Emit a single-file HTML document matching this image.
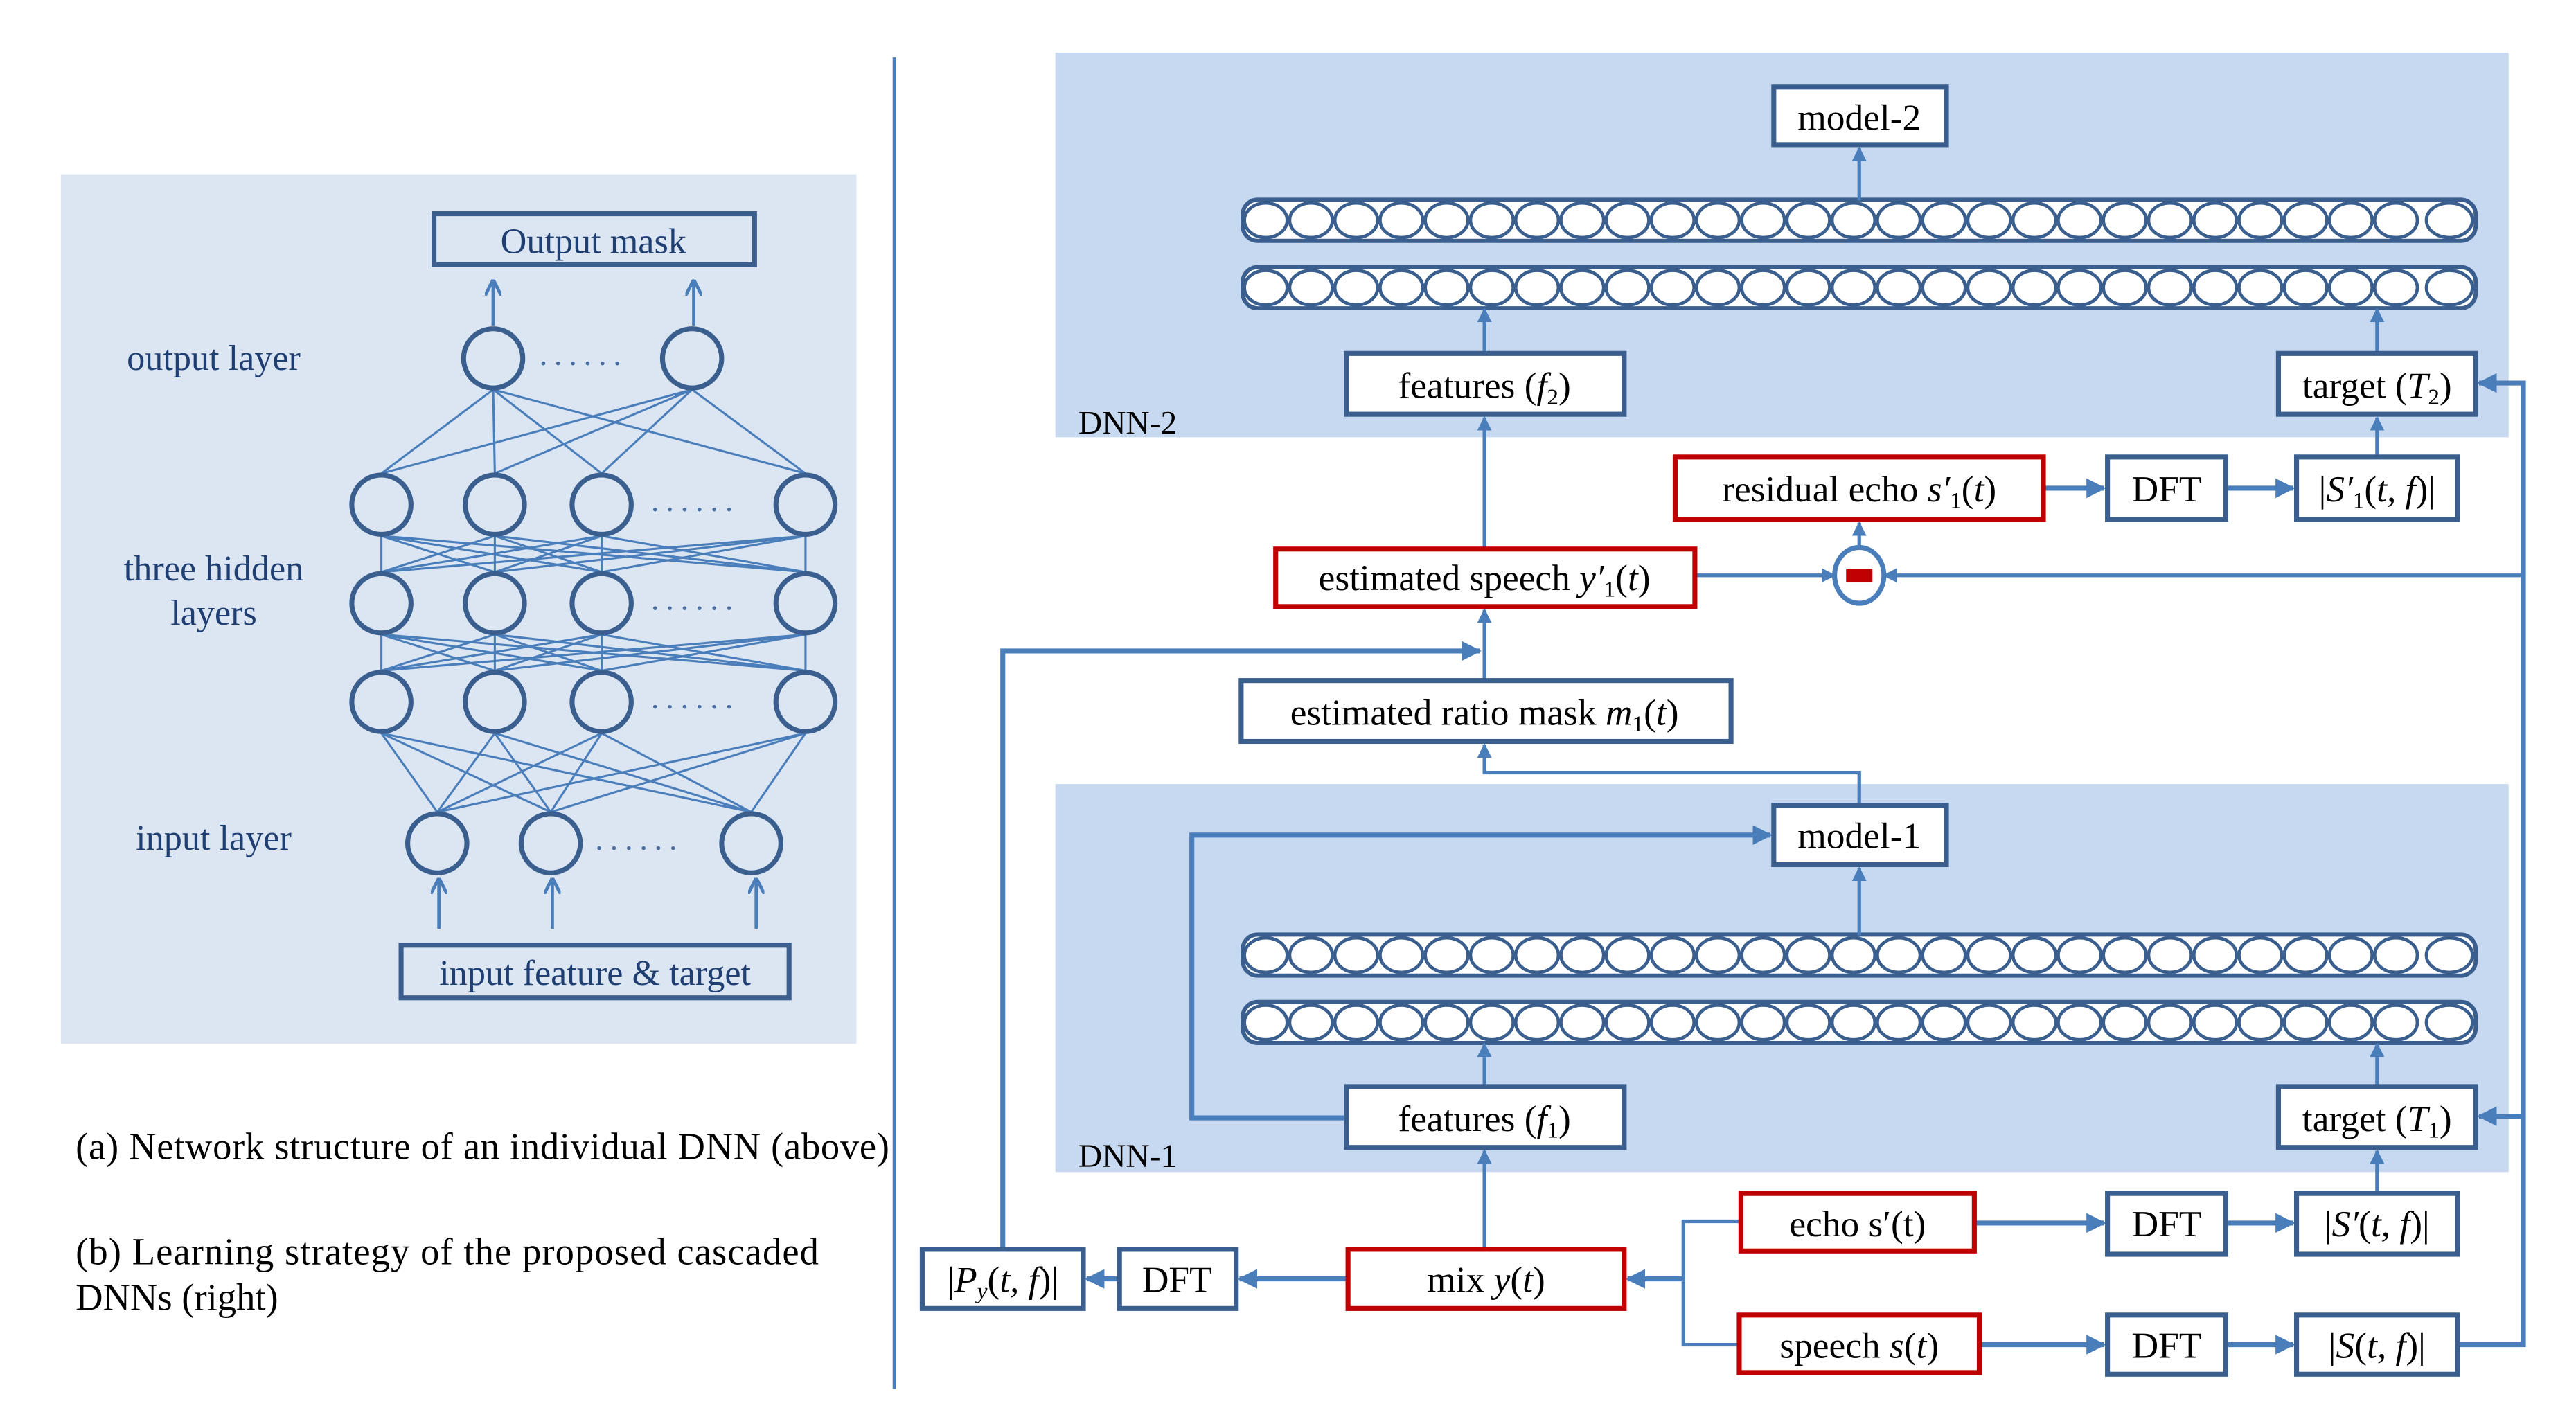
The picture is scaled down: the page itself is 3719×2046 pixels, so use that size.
<!DOCTYPE html>
<html><head><meta charset="utf-8"><style>
html,body{margin:0;padding:0;background:#fff}
svg{display:block}
text{font-family:"Liberation Serif",serif;fill:#000}
.l{fill:#1f3f73}
</style></head><body>
<svg width="3719" height="2046" viewBox="0 0 1567 862" preserveAspectRatio="none" xmlns="http://www.w3.org/2000/svg">
<defs>
<marker id="a" viewBox="0 0 10 10" refX="9" refY="5" markerWidth="4" markerHeight="4" orient="auto"><path d="M0,0L10,5L0,10z" fill="#4a7ebb"/></marker>
<marker id="o" viewBox="0 0 10 10" refX="9" refY="5" markerWidth="5" markerHeight="5" orient="auto"><path d="M0,0L10,5L0,10" fill="none" stroke="#4a7ebb" stroke-width="2"/></marker>
<g id="row">
<rect x="756" y="-12.5" width="750" height="25" rx="9" fill="#fff" stroke="#3a5f8f" stroke-width="2.5"/>
<g fill="#fff" stroke="#3a5f8f" stroke-width="2">
<ellipse cx="770" cy="0" rx="13" ry="10.5"/><ellipse cx="797.5" cy="0" rx="13" ry="10.5"/><ellipse cx="825" cy="0" rx="13" ry="10.5"/><ellipse cx="852.5" cy="0" rx="13" ry="10.5"/><ellipse cx="880" cy="0" rx="13" ry="10.5"/><ellipse cx="907.5" cy="0" rx="13" ry="10.5"/><ellipse cx="935" cy="0" rx="13" ry="10.5"/><ellipse cx="962.5" cy="0" rx="13" ry="10.5"/><ellipse cx="990" cy="0" rx="13" ry="10.5"/><ellipse cx="1017.5" cy="0" rx="13" ry="10.5"/><ellipse cx="1045" cy="0" rx="13" ry="10.5"/><ellipse cx="1072.5" cy="0" rx="13" ry="10.5"/><ellipse cx="1100" cy="0" rx="13" ry="10.5"/><ellipse cx="1127.5" cy="0" rx="13" ry="10.5"/><ellipse cx="1155" cy="0" rx="13" ry="10.5"/><ellipse cx="1182.5" cy="0" rx="13" ry="10.5"/><ellipse cx="1210" cy="0" rx="13" ry="10.5"/><ellipse cx="1237.5" cy="0" rx="13" ry="10.5"/><ellipse cx="1265" cy="0" rx="13" ry="10.5"/><ellipse cx="1292.5" cy="0" rx="13" ry="10.5"/><ellipse cx="1320" cy="0" rx="13" ry="10.5"/><ellipse cx="1347.5" cy="0" rx="13" ry="10.5"/><ellipse cx="1375" cy="0" rx="13" ry="10.5"/><ellipse cx="1402.5" cy="0" rx="13" ry="10.5"/><ellipse cx="1430" cy="0" rx="13" ry="10.5"/><ellipse cx="1457.5" cy="0" rx="13" ry="10.5"/><ellipse cx="1490" cy="0" rx="14" ry="10.5"/>
</g>
</g>
</defs>
<rect x="37" y="106" width="484" height="529" fill="#dce6f2"/>
<line x1="544" y1="35" x2="544" y2="845" stroke="#4a7ebb" stroke-width="2"/>
<g stroke="#4a7ebb" stroke-width="1.3">
<path d="M300,237L232,288M300,237L301,288M300,237L366,288M300,237L490,288M421,237L232,288M421,237L301,288M421,237L366,288M421,237L490,288"/>
<path d="M232,326L232,348M232,326L301,348M232,326L366,348M232,326L490,348M301,326L232,348M301,326L301,348M301,326L366,348M301,326L490,348M366,326L232,348M366,326L301,348M366,326L366,348M366,326L490,348M490,326L232,348M490,326L301,348M490,326L366,348M490,326L490,348"/>
<path d="M232,386L232,408M232,386L301,408M232,386L366,408M232,386L490,408M301,386L232,408M301,386L301,408M301,386L366,408M301,386L490,408M366,386L232,408M366,386L301,408M366,386L366,408M366,386L490,408M490,386L232,408M490,386L301,408M490,386L366,408M490,386L490,408"/>
<path d="M232,446L266,494M232,446L335,494M232,446L457,494M301,446L266,494M301,446L335,494M301,446L457,494M366,446L266,494M366,446L335,494M366,446L457,494M490,446L266,494M490,446L335,494M490,446L457,494"/>
</g>
<g fill="#dce6f2" stroke="#3a5f8f" stroke-width="3">
<circle cx="300" cy="218" r="18"/><circle cx="421" cy="218" r="18"/>
<circle cx="232" cy="307" r="18"/><circle cx="301" cy="307" r="18"/><circle cx="366" cy="307" r="18"/><circle cx="490" cy="307" r="18"/>
<circle cx="232" cy="367" r="18"/><circle cx="301" cy="367" r="18"/><circle cx="366" cy="367" r="18"/><circle cx="490" cy="367" r="18"/>
<circle cx="232" cy="427" r="18"/><circle cx="301" cy="427" r="18"/><circle cx="366" cy="427" r="18"/><circle cx="490" cy="427" r="18"/>
<circle cx="266" cy="513" r="18"/><circle cx="335" cy="513" r="18"/><circle cx="457" cy="513" r="18"/>
</g>
<g>
<text x="328" y="222" style="font-size:20px;fill:#4a6fa0;letter-spacing:4px">......</text>
<text x="396" y="311" style="font-size:20px;fill:#4a6fa0;letter-spacing:4px">......</text>
<text x="396" y="371" style="font-size:20px;fill:#4a6fa0;letter-spacing:4px">......</text>
<text x="396" y="431" style="font-size:20px;fill:#4a6fa0;letter-spacing:4px">......</text>
<text x="362" y="517" style="font-size:20px;fill:#4a6fa0;letter-spacing:4px">......</text>
</g>
<g stroke="#4a7ebb" stroke-width="2" fill="none">
<line x1="300" y1="198" x2="300" y2="171" marker-end="url(#o)"/>
<line x1="422" y1="198" x2="422" y2="171" marker-end="url(#o)"/>
<line x1="267" y1="565" x2="267" y2="535" marker-end="url(#o)"/>
<line x1="336" y1="565" x2="336" y2="535" marker-end="url(#o)"/>
<line x1="460" y1="565" x2="460" y2="535" marker-end="url(#o)"/>
</g>
<rect x="264" y="130" width="195" height="31" fill="none" stroke="#3a5f8f" stroke-width="3"/>
<text x="361" y="154" text-anchor="middle" class="l" style="font-size:22px">Output mask</text>
<rect x="244" y="575" width="236" height="32" fill="none" stroke="#3a5f8f" stroke-width="3"/>
<text x="362" y="599" text-anchor="middle" class="l" style="font-size:22px">input feature &amp; target</text>
<text x="130" y="225" text-anchor="middle" class="l" style="font-size:22px">output layer</text>
<text x="130" y="353" text-anchor="middle" class="l" style="font-size:22px">three hidden</text>
<text x="130" y="380" text-anchor="middle" class="l" style="font-size:22px">layers</text>
<text x="130" y="517" text-anchor="middle" class="l" style="font-size:22px">input layer</text>
<text x="46" y="705" style="font-size:23px" textLength="495">(a) Network structure of an individual DNN (above)</text>
<text x="46" y="769" style="font-size:23px" textLength="452">(b) Learning strategy of the proposed cascaded</text>
<text x="46" y="797" style="font-size:23px">DNNs (right)</text>

<rect x="642" y="32" width="884" height="234" fill="#c6d9f0"/>
<rect x="642" y="477" width="884" height="236" fill="#c6d9f0"/>
<text x="656" y="264" style="font-size:20px">DNN-2</text>
<text x="656" y="710" style="font-size:20px">DNN-1</text>

<use href="#row" y="134"/><use href="#row" y="175"/><use href="#row" y="581"/><use href="#row" y="622"/>

<g stroke="#4a7ebb" stroke-width="2.2" fill="none">
<line x1="1131" y1="122" x2="1131" y2="90" marker-end="url(#a)"/>
<line x1="903" y1="215" x2="903" y2="188" marker-end="url(#a)"/>
<line x1="1446" y1="215" x2="1446" y2="188" marker-end="url(#a)"/>
<line x1="903" y1="334" x2="903" y2="254" marker-end="url(#a)"/>
<line x1="1446" y1="278" x2="1446" y2="254" marker-end="url(#a)"/>
<line x1="1243" y1="297" x2="1280" y2="297" marker-end="url(#a)" stroke-width="3"/>
<line x1="1354" y1="297" x2="1395" y2="297" marker-end="url(#a)" stroke-width="3"/>
<line x1="1131" y1="337" x2="1131" y2="318" marker-end="url(#a)"/>
<line x1="1031" y1="350" x2="1116" y2="350" marker-end="url(#a)"/>
<line x1="1535" y1="350" x2="1146" y2="350" marker-end="url(#a)"/>
<polyline points="1495,818 1535,818 1535,233 1508,233" marker-end="url(#a)" stroke-width="3"/>
<line x1="1535" y1="679" x2="1508" y2="679" marker-end="url(#a)" stroke-width="3"/>
<line x1="903" y1="414" x2="903" y2="371" marker-end="url(#a)"/>
<polyline points="610,760 610,396 900,396" marker-end="url(#a)" stroke-width="3"/>
<polyline points="1131,490 1131,470 903,470 903,453" marker-end="url(#a)"/>
<polyline points="819,680 725,680 725,508 1077,508" marker-end="url(#a)" stroke-width="3"/>
<line x1="1131" y1="569" x2="1131" y2="528" marker-end="url(#a)"/>
<line x1="903" y1="661" x2="903" y2="635" marker-end="url(#a)"/>
<line x1="1446" y1="661" x2="1446" y2="635" marker-end="url(#a)"/>
<line x1="903" y1="760" x2="903" y2="700" marker-end="url(#a)"/>
<line x1="1446" y1="726" x2="1446" y2="700" marker-end="url(#a)"/>
<polyline points="1059,743 1024,743 1024,818 1058,818"/>
<line x1="1024" y1="778" x2="990" y2="778" marker-end="url(#a)" stroke-width="3"/>
<line x1="820" y1="778" x2="754" y2="778" marker-end="url(#a)" stroke-width="3"/>
<line x1="681" y1="778" x2="661" y2="778" marker-end="url(#a)" stroke-width="3"/>
<line x1="1201" y1="744" x2="1280" y2="744" marker-end="url(#a)" stroke-width="3"/>
<line x1="1354" y1="744" x2="1395" y2="744" marker-end="url(#a)" stroke-width="3"/>
<line x1="1204" y1="818" x2="1280" y2="818" marker-end="url(#a)" stroke-width="3"/>
<line x1="1354" y1="818" x2="1395" y2="818" marker-end="url(#a)" stroke-width="3"/>
</g>
<ellipse cx="1131" cy="350" rx="15" ry="17" fill="#fff" stroke="#4a7ebb" stroke-width="3"/>
<rect x="1123" y="346" width="16" height="8" fill="#c00000"/>

<g fill="#fff" stroke="#3a5f8f" stroke-width="3">
<rect x="1079" y="53" width="105" height="35"/>
<rect x="819" y="215" width="169" height="37"/>
<rect x="1386" y="215" width="120" height="37"/>
<rect x="1282" y="278" width="72" height="38"/>
<rect x="1397" y="278" width="98" height="38"/>
<rect x="755" y="414" width="298" height="37"/>
<rect x="1079" y="490" width="105" height="36"/>
<rect x="819" y="661" width="169" height="37"/>
<rect x="1386" y="661" width="120" height="37"/>
<rect x="1282" y="726" width="72" height="37"/>
<rect x="1397" y="726" width="98" height="37"/>
<rect x="1282" y="800" width="72" height="36"/>
<rect x="1397" y="800" width="98" height="36"/>
<rect x="681" y="760" width="71" height="36"/>
<rect x="561" y="760" width="98" height="36"/>
</g>
<g fill="#fff" stroke="#c00000" stroke-width="3">
<rect x="1019" y="278" width="224" height="38"/>
<rect x="776" y="334" width="255" height="35"/>
<rect x="1059" y="726" width="142" height="35"/>
<rect x="1058" y="800" width="146" height="35"/>
<rect x="820" y="760" width="168" height="36"/>
</g>
<g style="font-size:22.5px" text-anchor="middle">
<text x="1131" y="79">model-2</text>
<text x="903" y="242">features (<tspan font-style="italic">f</tspan><tspan font-size="14" dy="4">2</tspan><tspan dy="-4">)</tspan></text>
<text x="1446" y="242">target (<tspan font-style="italic">T</tspan><tspan font-size="14" dy="4">2</tspan><tspan dy="-4">)</tspan></text>
<text x="1131" y="305">residual echo  <tspan font-style="italic">s′</tspan><tspan font-size="14" dy="4">1</tspan><tspan dy="-4">(</tspan><tspan font-style="italic">t</tspan>)</text>
<text x="1318" y="305">DFT</text>
<text x="1446" y="305">|<tspan font-style="italic">S′</tspan><tspan font-size="14" dy="4">1</tspan><tspan dy="-4">(</tspan><tspan font-style="italic">t, f</tspan>)|</text>
<text x="903" y="359">estimated speech  <tspan font-style="italic">y′</tspan><tspan font-size="14" dy="4">1</tspan><tspan dy="-4">(</tspan><tspan font-style="italic">t</tspan>)</text>
<text x="903" y="441">estimated ratio mask  <tspan font-style="italic">m</tspan><tspan font-size="14" dy="4">1</tspan><tspan dy="-4">(</tspan><tspan font-style="italic">t</tspan>)</text>
<text x="1131" y="516">model-1</text>
<text x="903" y="688">features (<tspan font-style="italic">f</tspan><tspan font-size="14" dy="4">1</tspan><tspan dy="-4">)</tspan></text>
<text x="1446" y="688">target (<tspan font-style="italic">T</tspan><tspan font-size="14" dy="4">1</tspan><tspan dy="-4">)</tspan></text>
<text x="1130" y="752">echo  s′(t)</text>
<text x="1318" y="752">DFT</text>
<text x="1446" y="752">|<tspan font-style="italic">S′</tspan>(<tspan font-style="italic">t, f</tspan>)|</text>
<text x="1131" y="826">speech  <tspan font-style="italic">s</tspan>(<tspan font-style="italic">t</tspan>)</text>
<text x="1318" y="826">DFT</text>
<text x="1446" y="826">|<tspan font-style="italic">S</tspan>(<tspan font-style="italic">t, f</tspan>)|</text>
<text x="904" y="786">mix  <tspan font-style="italic">y</tspan>(<tspan font-style="italic">t</tspan>)</text>
<text x="716" y="786">DFT</text>
<text x="610" y="786">|<tspan font-style="italic">P</tspan><tspan font-size="14" dy="4" font-style="italic">y</tspan><tspan dy="-4">(</tspan><tspan font-style="italic">t, f</tspan>)|</text>
</g>
</svg>
</body></html>
